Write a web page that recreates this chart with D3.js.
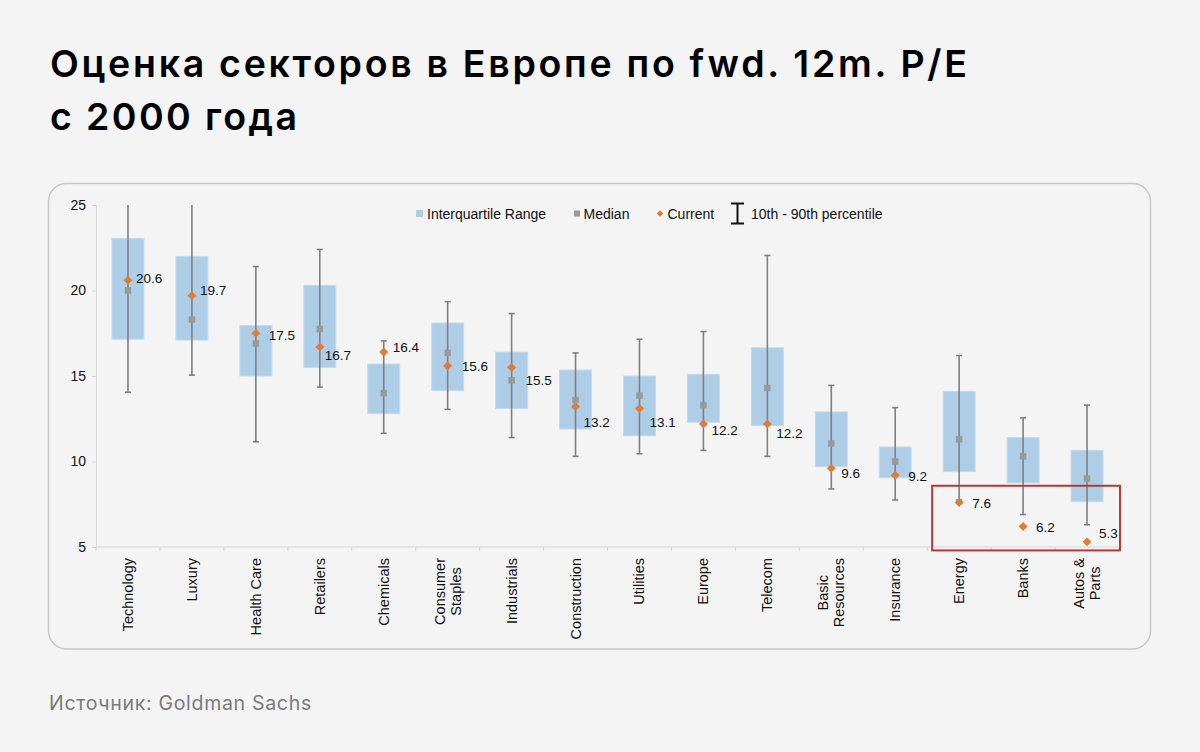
<!DOCTYPE html>
<html>
<head>
<meta charset="utf-8">
<script src="https://cdn.jsdelivr.net/npm/d3@7"></script>
<style>
  html, body { margin: 0; padding: 0; background: #f4f4f4; }
  svg { display: block; }
</style>
</head>
<body>
<svg id="chart" width="1200" height="752"></svg>
<script>
// ---------------- DATA ----------------
const titleLines = ["Оценка секторов в Европе по fwd. 12m. P/E", "с 2000 года"];
const sourceText = "Источник: Goldman Sachs";

const categories = ["Technology", "Luxury", "Health Care", "Retailers", "Chemicals",
  "Consumer\nStaples", "Industrials", "Construction", "Utilities", "Europe", "Telecom",
  "Basic\nResources", "Insurance", "Energy", "Banks", "Autos &\nParts"];

const q1Values      = [17.15, 17.1, 15.0, 15.5, 12.8, 14.15, 13.1, 11.9, 11.5, 12.3, 12.1, 9.7, 9.05, 9.4, 8.75, 7.65];
const q3Values      = [23.05, 22.0, 17.95, 20.3, 15.7, 18.1, 16.4, 15.35, 15.0, 15.1, 16.65, 12.9, 10.85, 14.1, 11.4, 10.65];
const medianValues  = [20.0, 18.3, 16.9, 17.75, 14.0, 16.35, 14.75, 13.6, 13.85, 13.3, 14.3, 11.05, 10.0, 11.3, 10.3, 9.0];
const currentValues = [20.6, 19.7, 17.5, 16.7, 16.4, 15.6, 15.5, 13.2, 13.1, 12.2, 12.2, 9.6, 9.2, 7.6, 6.2, 5.3];
const p10Values     = [14.05, 15.05, 11.15, 14.35, 11.65, 13.05, 11.4, 10.3, 10.45, 10.65, 10.3, 8.4, 7.75, 7.75, 6.9, 6.3];
const p90Values     = [25, 25, 21.4, 22.4, 17.05, 19.35, 18.65, 16.35, 17.15, 17.6, 22.05, 14.45, 13.15, 16.2, 12.55, 13.3];
const currentLabels = ["20.6", "19.7", "17.5", "16.7", "16.4", "15.6", "15.5", "13.2", "13.1", "12.2", "12.2", "9.6", "9.2", "7.6", "6.2", "5.3"];

const yTicks = [5, 10, 15, 20, 25];
const yDomain = [5, 25];
const legendLabels = ["Interquartile Range", "Median", "Current", "10th - 90th percentile"];
const highlightCats = ["Energy", "Autos &\nParts"];
const highlightRange = [4.8, 8.58];

// label nudges (layout only, px)
const labelNudgeX = [8, 8, 13, 5, 9, 14, 14, 8, 10, 8, 9, 10, 13, 13, 13, 12];
const labelNudgeY = [-2, -5, 2, 8, -5, 0, 13, 15, 14, 6, 9, 5, 1, 1, 1, -9];

// ---------------- STYLE ----------------
const C = {
  bg: "#f4f4f4", card: "#c8c8c8", box: "#aecde7", boxEdge: "#c4dbef",
  median: "#9a9a9a", current: "#e27b36", whisker: "#7f7f7f", axis: "#d6d6d6",
  text: "#111", red: "#b23a3a", source: "#7a7a7a"
};
const chartFont = "'Liberation Sans', Arial, sans-serif";

const svg = d3.select("#chart");
svg.append("rect").attr("width", 1200).attr("height", 752).attr("fill", C.bg);

// title
const titleWidths = [917, 247];
const title = svg.append("text")
  .attr("font-family", "Inter, 'Noto Sans', sans-serif")
  .attr("font-weight", 600).attr("font-size", 37.5).attr("fill", "#000");
titleLines.forEach((t, i) => {
  title.append("tspan").attr("x", 50).attr("y", 77 + i * 53)
    .attr("textLength", titleWidths[i]).attr("lengthAdjust", "spacing").text(t);
});

// card
svg.append("rect").attr("x", 48.5).attr("y", 183.5).attr("width", 1102).attr("height", 465.5)
  .attr("rx", 18).attr("fill", C.bg).attr("stroke", C.card).attr("stroke-width", 1.5);

// source
svg.append("text").attr("x", 49).attr("y", 710)
  .attr("font-family", "Inter, 'Noto Sans', sans-serif").attr("font-size", 19.5)
  .attr("letter-spacing", 0.7)
  .attr("fill", C.source).text(sourceText);

// ---------------- SCALES ----------------
const plot = { left: 96, right: 1119, top: 205, bottom: 547 };
const x = d3.scaleBand().domain(categories).range([plot.left, plot.right]).padding(0);
const y = d3.scaleLinear().domain(yDomain).range([plot.bottom, plot.top]);
const bw = x.bandwidth() * 0.5;
const cx = c => x(c) + x.bandwidth() / 2;

const data = categories.map((c, i) => ({
  cat: c, q1: q1Values[i], q3: q3Values[i], med: medianValues[i], cur: currentValues[i],
  p10: p10Values[i], p90: p90Values[i], label: currentLabels[i], dx: labelNudgeX[i], dy: labelNudgeY[i]
}));

// ---------------- AXES ----------------
const yAxis = svg.append("g").attr("transform", `translate(${plot.left},0)`)
  .call(d3.axisLeft(y).tickValues(yTicks).tickSize(4).tickPadding(6).tickFormat(d3.format("d")));
yAxis.select(".domain").attr("stroke", C.axis);
yAxis.selectAll(".tick line").attr("stroke", C.axis);
yAxis.selectAll(".tick text").attr("font-family", chartFont).attr("font-size", 14).attr("fill", C.text);

// x axis line and boundary ticks
const xg = svg.append("g");
xg.append("line").attr("x1", plot.left).attr("x2", plot.right)
  .attr("y1", y(yDomain[0])).attr("y2", y(yDomain[0])).attr("stroke", C.axis);
const bounds = categories.map(c => x(c)).concat([x(categories[categories.length - 1]) + x.bandwidth()]);
xg.selectAll("line.bt").data(bounds).join("line").attr("class", "bt")
  .attr("x1", d => d).attr("x2", d => d)
  .attr("y1", y(yDomain[0])).attr("y2", y(yDomain[0]) + 4).attr("stroke", C.axis);

// x labels (rotated, multiline centered)
const labelTop = y(yDomain[0]) + 11;
data.forEach(d => {
  const lines = d.cat.split("\n");
  const g = svg.append("g");
  const texts = lines.map((ln, j) => g.append("text")
    .attr("font-family", chartFont).attr("font-size", 14.5).attr("fill", C.text)
    .attr("text-anchor", "middle").text(ln));
  const maxW = d3.max(texts, t => t.node().getComputedTextLength());
  const lh = 16;
  const n = lines.length;
  texts.forEach((t, j) => {
    const off = (j - (n - 1) / 2) * lh;
    t.attr("transform", `translate(${cx(d.cat) + off + 5},${labelTop + maxW / 2}) rotate(-90)`);
  });
});

// ---------------- MARKS ----------------
const marks = svg.append("g");
// boxes
marks.selectAll("rect.iqr").data(data).join("rect").attr("class", "iqr")
  .attr("x", d => cx(d.cat) - bw / 2).attr("width", bw)
  .attr("y", d => y(d.q3)).attr("height", d => y(d.q1) - y(d.q3))
  .attr("fill", C.box).attr("stroke", C.boxEdge).attr("stroke-width", 1);

// whiskers
marks.selectAll("line.wh").data(data).join("line").attr("class", "wh")
  .attr("x1", d => cx(d.cat)).attr("x2", d => cx(d.cat))
  .attr("y1", d => y(Math.min(d.p90, yDomain[1]))).attr("y2", d => y(d.p10))
  .attr("stroke", C.whisker).attr("stroke-width", 1.6);
const caps = [];
data.forEach(d => {
  if (d.p90 < yDomain[1]) caps.push({ c: d.cat, v: d.p90 });
  caps.push({ c: d.cat, v: d.p10 });
});
marks.selectAll("line.cap").data(caps).join("line").attr("class", "cap")
  .attr("x1", d => cx(d.c) - 3).attr("x2", d => cx(d.c) + 3)
  .attr("y1", d => y(d.v)).attr("y2", d => y(d.v))
  .attr("stroke", C.whisker).attr("stroke-width", 1.6);

// medians
const ms = 6.5;
marks.selectAll("rect.med").data(data).join("rect").attr("class", "med")
  .attr("x", d => cx(d.cat) - ms / 2).attr("y", d => y(d.med) - ms / 2)
  .attr("width", ms).attr("height", ms).attr("fill", C.median);

// current diamonds
const diamond = d3.symbol(d3.symbolSquare, 40);
marks.selectAll("path.cur").data(data).join("path").attr("class", "cur")
  .attr("d", diamond)
  .attr("transform", d => `translate(${cx(d.cat)},${y(d.cur)}) rotate(45)`)
  .attr("fill", C.current);

// labels
marks.selectAll("text.lbl").data(data).join("text").attr("class", "lbl")
  .attr("x", d => cx(d.cat) + d.dx).attr("y", d => y(d.cur) + d.dy)
  .attr("dy", "0.36em")
  .attr("font-family", chartFont).attr("font-size", 13.5).attr("fill", C.text)
  .text(d => d.label);

// highlight rect
const hx0 = x(highlightCats[0]) + 5;
const hx1 = x(highlightCats[1]) + x.bandwidth() + 1;
svg.append("rect").attr("x", hx0).attr("y", y(highlightRange[1]))
  .attr("width", hx1 - hx0).attr("height", y(highlightRange[0]) - y(highlightRange[1]))
  .attr("fill", "none").attr("stroke", C.red).attr("stroke-width", 2);

// ---------------- LEGEND ----------------
const lg = svg.append("g").attr("font-family", chartFont).attr("font-size", 14).attr("fill", C.text);
const ly = 213.5;
const lx = [416, 574, 656, 731];
// iqr
lg.append("rect").attr("x", lx[0]).attr("y", ly - 3.5).attr("width", 7).attr("height", 7).attr("fill", C.box);
lg.append("text").attr("x", lx[0] + 11).attr("y", ly).attr("dy", "0.36em").text(legendLabels[0]);
// median
lg.append("rect").attr("x", lx[1]).attr("y", ly - 3).attr("width", 6).attr("height", 6).attr("fill", C.median);
lg.append("text").attr("x", lx[1] + 9.5).attr("y", ly).attr("dy", "0.36em").text(legendLabels[1]);
// current
lg.append("path").attr("d", d3.symbol(d3.symbolSquare, 22))
  .attr("transform", `translate(${lx[2] + 4},${ly}) rotate(45)`).attr("fill", C.current);
lg.append("text").attr("x", lx[2] + 11.5).attr("y", ly).attr("dy", "0.36em").text(legendLabels[2]);
// I-beam
const ib = lg.append("g").attr("stroke", "#111").attr("stroke-width", 2);
ib.append("line").attr("x1", lx[3] + 6.5).attr("x2", lx[3] + 6.5).attr("y1", ly - 10).attr("y2", ly + 10);
ib.append("line").attr("x1", lx[3]).attr("x2", lx[3] + 13).attr("y1", ly - 10).attr("y2", ly - 10);
ib.append("line").attr("x1", lx[3]).attr("x2", lx[3] + 13).attr("y1", ly + 10).attr("y2", ly + 10);
lg.append("text").attr("x", lx[3] + 20).attr("y", ly).attr("dy", "0.36em").text(legendLabels[3]);
</script>
</body>
</html>
